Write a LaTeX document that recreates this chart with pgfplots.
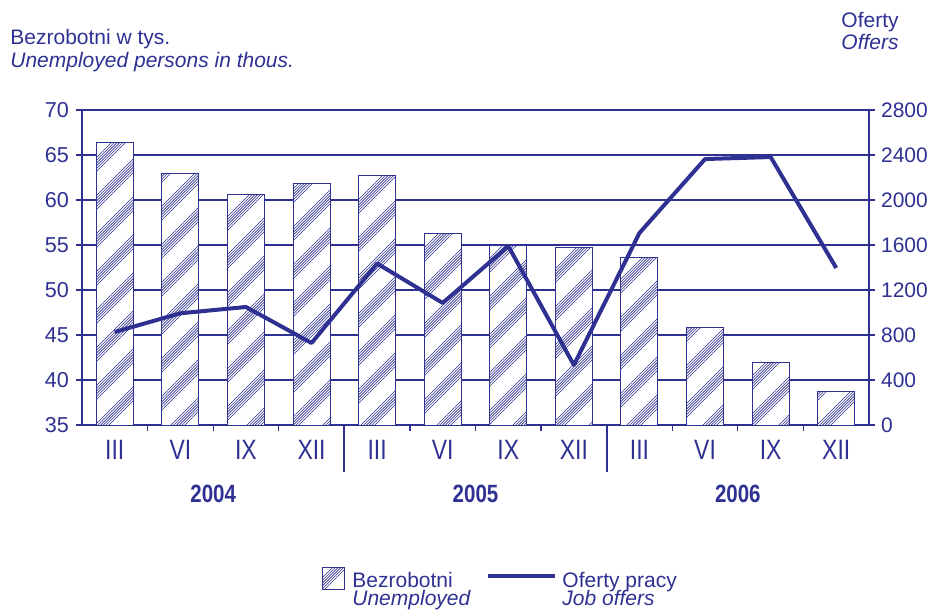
\documentclass[border=0pt]{standalone}
\usepackage{fontspec}
\setmainfont{Liberation Sans}
\newfontfamily\narrowfont[FakeStretch=0.82]{Liberation Sans}
\usepackage{pgfplots}
\usepackage{pgfplotstable}
\pgfplotsset{compat=1.18}
\usetikzlibrary{patterns}
\definecolor{navy}{RGB}{46,49,146}
\pgfdeclarepatternformonly{bandhatch}{\pgfpoint{-1pt}{-1pt}}{\pgfpoint{20pt}{20pt}}{\pgfpoint{19pt}{19pt}}{%
  \pgfsetlinewidth{0.3pt}%
  \foreach \c in {0,1.4,2.8,4.2,5.6,7.0}{%
    \pgfpathmoveto{\pgfpoint{0pt}{\c pt}}%
    \pgfpathlineto{\pgfpoint{19pt-\c pt}{19pt}}%
    \pgfpathmoveto{\pgfpoint{19pt-\c pt}{0pt}}%
    \pgfpathlineto{\pgfpoint{19pt}{\c pt}}%
  }%
  \pgfusepath{stroke}%
}
\pgfplotstableread{
x u o
0 66.4 827
1 62.9 993
2 60.6 1049
3 61.8 729
4 62.7 1435
5 56.3 1085
6 54.9 1590
7 54.7 533
8 53.6 1707
9 45.8 2364
10 42.0 2382
11 38.7 1396
}\data
\begin{document}
\begin{tikzpicture}
\begin{axis}[
  at={(0,0)}, anchor=south west,
  scale only axis, width=393.5pt, height=157.5pt,
  xmin=-0.5, xmax=11.5, ymin=35, ymax=70,
  ytick={35,40,...,70},
  xtick={0,...,11},
  xticklabels={III,VI,IX,XII,III,VI,IX,XII,III,VI,IX,XII},
  minor xtick={0.5,1.5,2.5,4.5,5.5,6.5,8.5,9.5,10.5},
  major x tick style={draw=none},
  minor tick length=3pt,
  major tick length=3pt,
  tick align=outside,
  xtick pos=bottom, ytick pos=left,
  ymajorgrids,
  grid style={navy, line width=0.6pt},
  axis line style={navy, line width=0.7pt},
  tick style={navy, line width=0.6pt},
  every tick label/.append style={text=navy},
  yticklabel style={font=\fontsize{10.8}{12}\selectfont},
  xticklabel style={font=\fontsize{14}{16}\narrowfont, yshift=-1pt},
  /pgf/number format/assume math mode=true,
  clip=false,
]
\addplot[ybar, bar width=18.5pt, draw=navy, line width=0.5pt, fill=white,
  postaction={pattern=bandhatch, pattern color=navy}] table[x=x, y=u] {\data};
\draw[navy, line width=1pt] (axis cs:3.5,35) -- ++(0pt,-23.5pt);
\draw[navy, line width=1pt] (axis cs:7.5,35) -- ++(0pt,-23.5pt);
\path (axis cs:1.5,35) ++(0pt,-38.5pt) node[anchor=base, text=navy, font=\fontsize{12.5}{14}\narrowfont\bfseries, inner sep=0pt] {2004};
\path (axis cs:5.5,35) ++(0pt,-38.5pt) node[anchor=base, text=navy, font=\fontsize{12.5}{14}\narrowfont\bfseries, inner sep=0pt] {2005};
\path (axis cs:9.5,35) ++(0pt,-38.5pt) node[anchor=base, text=navy, font=\fontsize{12.5}{14}\narrowfont\bfseries, inner sep=0pt] {2006};
\end{axis}
\begin{axis}[
  at={(0,0)}, anchor=south west,
  scale only axis, width=393.5pt, height=157.5pt,
  xmin=-0.5, xmax=11.5, ymin=0, ymax=2800,
  ytick={0,400,...,2800},
  axis y line*=right, axis x line=none,
  major tick length=3pt, tick align=outside,
  axis line style={navy, line width=0.7pt},
  tick style={navy, line width=0.6pt},
  every tick label/.append style={text=navy},
  yticklabel style={font=\fontsize{10.5}{12}\selectfont, xshift=-0.5pt},
  /pgf/number format/assume math mode=true,
  /pgf/number format/1000 sep={},
  clip=false,
]
\addplot[navy, line width=2pt, line join=round, no marks] table[x=x, y=o] {\data};
\end{axis}
% titles
\node[anchor=base west, inner sep=0pt, text=navy, font=\fontsize{10.5}{12}\selectfont] at (-36pt,190pt) {Bezrobotni w tys.};
\node[anchor=base west, inner sep=0pt, text=navy, font=\fontsize{10.5}{12}\selectfont\itshape] at (-36pt,178.5pt) {Unemployed persons in thous.};
\node[anchor=base east, inner sep=0pt, text=navy, font=\fontsize{10.5}{12}\selectfont] at (408.5pt,198.5pt) {Oferty};
\node[anchor=base east, inner sep=0pt, text=navy, font=\fontsize{10.5}{12}\selectfont\itshape] at (408.5pt,187.5pt) {Offers};
% legend
\filldraw[draw=navy, line width=0.5pt, fill=white, postaction={pattern=bandhatch, pattern color=navy}] (120pt,-82pt) rectangle (131pt,-71pt);
\node[anchor=base west, inner sep=0pt, text=navy, font=\fontsize{10.5}{12}\selectfont] at (135pt,-81pt) {Bezrobotni};
\node[anchor=base west, inner sep=0pt, text=navy, font=\fontsize{10.5}{12}\selectfont\itshape] at (135pt,-90pt) {Unemployed};
\draw[navy, line width=2pt] (203pt,-75.5pt) -- (236.5pt,-75.5pt);
\node[anchor=base west, inner sep=0pt, text=navy, font=\fontsize{10.5}{12}\selectfont] at (240pt,-81pt) {Oferty pracy};
\node[anchor=base west, inner sep=0pt, text=navy, font=\fontsize{10.5}{12}\selectfont\itshape] at (240pt,-90pt) {Job offers};
\pgfresetboundingbox
\path (-41pt,-92.5pt) rectangle (423.5pt,212.5pt);
\end{tikzpicture}
\end{document}
